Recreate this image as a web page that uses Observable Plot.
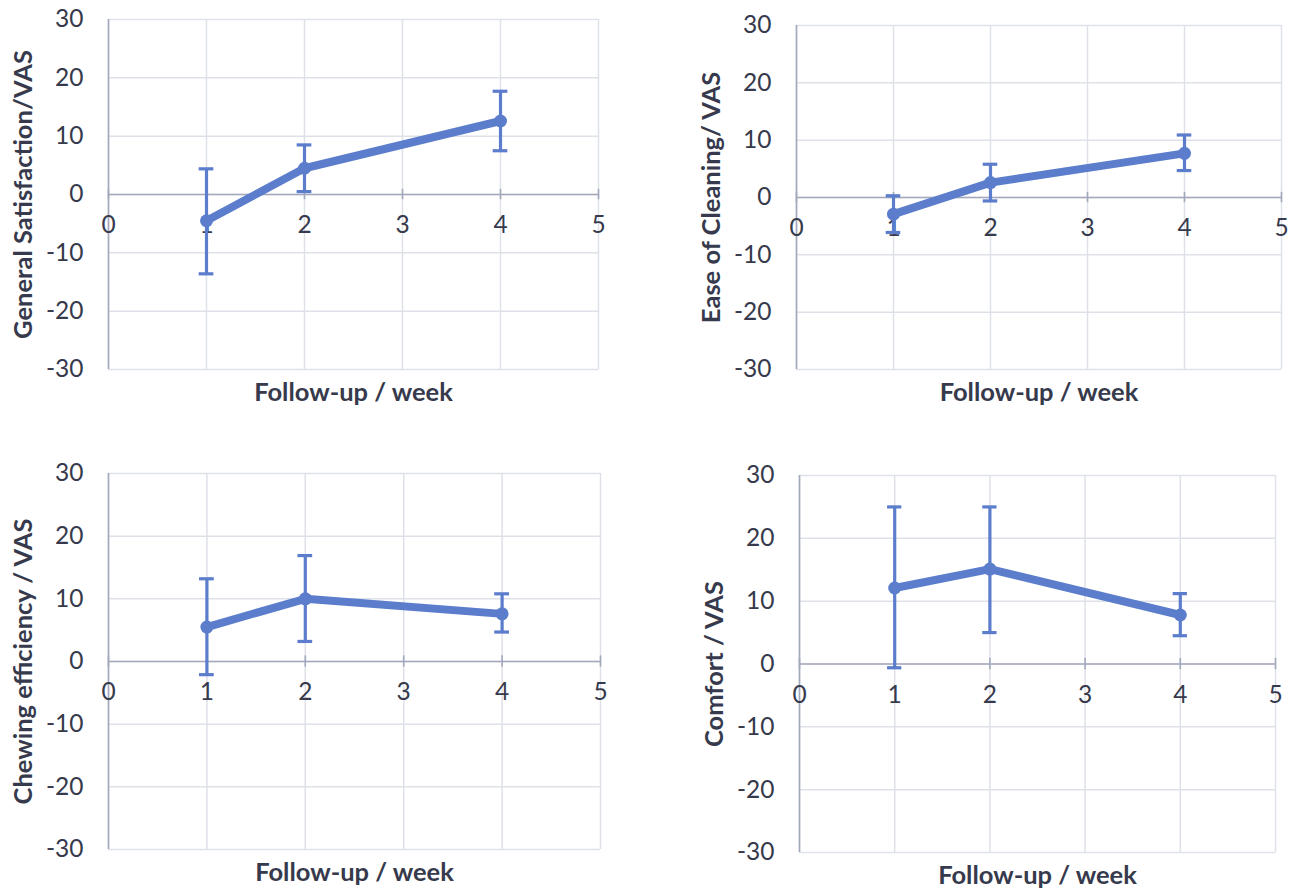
<!DOCTYPE html>
<html>
<head>
<meta charset="utf-8">
<script src="https://cdn.jsdelivr.net/npm/d3@7"></script>
<script src="https://cdn.jsdelivr.net/npm/@observablehq/plot@0.6"></script>
<style>
  html, body { margin: 0; padding: 0; background: #ffffff; }
  #page { position: relative; width: 1298px; height: 889px; overflow: hidden; background: #fff; }
  .panel { position: absolute; }
  .panel svg { display: block; overflow: visible; }
</style>
</head>
<body>
<div id="page"></div>
<script>
// ---- data ----
const weeks = [1, 2, 4];
const xTicks = [0, 1, 2, 3, 4, 5];
const yTicks = [-30, -20, -10, 0, 10, 20, 30];
const xTitle = "Follow-up / week";

const satLabel = "General Satisfaction/VAS";
const satMean = [-4.5, 4.5, 12.6];
const satLow  = [-13.6, 0.5, 7.5];
const satHigh = [4.4, 8.5, 17.7];

const cleanLabel = "Ease of Cleaning/ VAS";
const cleanMean = [-2.9, 2.6, 7.7];
const cleanLow  = [-6.1, -0.6, 4.7];
const cleanHigh = [0.3, 5.8, 10.9];

const chewLabel = "Chewing efficiency / VAS";
const chewMean = [5.5, 10.0, 7.6];
const chewLow  = [-2.1, 3.2, 4.7];
const chewHigh = [13.2, 16.9, 10.8];

const comfortLabel = "Comfort / VAS";
const comfortMean = [12.1, 15.1, 7.8];
const comfortLow  = [-0.6, 5.0, 4.5];
const comfortHigh = [25.0, 25.0, 11.2];

// ---- style ----
const blue = "#5b7dcc";
const gridColor = "#dfe1e9";
const axisColor = "#a3a9bd";
const textColor = "#363a4c";
const font = "Lato";

function panel(opts) {
  const {mean, low, high, label, left, top, width, height, ml, mr, mt, mb} = opts;
  const data = weeks.map((w, i) => ({week: w, mean: mean[i], low: low[i], high: high[i]}));
  const capHalf = 0.075;
  const chart = Plot.plot({
    width, height,
    marginLeft: ml, marginRight: mr, marginTop: mt, marginBottom: mb,
    x: {domain: [0, 5], axis: null},
    y: {domain: [-30, 30], axis: null},
    style: {fontFamily: font, color: textColor, background: "transparent", overflow: "visible"},
    marks: [
      Plot.ruleX(xTicks, {x: d => d, stroke: gridColor, strokeWidth: 1.5}),
      Plot.ruleY(yTicks, {y: d => d, stroke: gridColor, strokeWidth: 1.5}),
      Plot.ruleX([0], {x: d => d, stroke: axisColor, strokeWidth: 1.6}),
      Plot.ruleY([0], {y: d => d, stroke: axisColor, strokeWidth: 1.6}),
      Plot.ruleX(xTicks, {x: d => d, y1: () => -0.9, y2: () => 0.9, stroke: axisColor, strokeWidth: 1.6}),
      Plot.text(yTicks, {x: () => 0, y: d => d, text: d => String(d), textAnchor: "end", dx: -25, fontSize: 24.5, fill: textColor}),
      Plot.text(xTicks, {x: d => d, y: () => 0, text: d => String(d), dy: 31, fontSize: 24.5, fill: textColor}),
      Plot.ruleX(data, {x: "week", y1: "low", y2: "high", stroke: blue, strokeWidth: 3.2}),
      Plot.ruleY(data, {y: "high", x1: d => d.week - capHalf, x2: d => d.week + capHalf, stroke: blue, strokeWidth: 3.2}),
      Plot.ruleY(data, {y: "low", x1: d => d.week - capHalf, x2: d => d.week + capHalf, stroke: blue, strokeWidth: 3.2}),
      Plot.line(data, {x: "week", y: "mean", stroke: blue, strokeWidth: 8, strokeLinecap: "round", strokeLinejoin: "round"}),
      Plot.dot(data, {x: "week", y: "mean", r: 6.5, fill: blue, stroke: "none"}),
      Plot.text([xTitle], {frameAnchor: "bottom", dy: 23, lineAnchor: "middle", textAnchor: "middle", text: d => d, fontSize: 25.5, fontWeight: "bold", fill: textColor}),
      Plot.text([label], {frameAnchor: "left", dx: -85, rotate: -90, lineAnchor: "middle", textAnchor: "middle", text: d => d, fontSize: 25.5, fontWeight: "bold", fill: textColor})
    ]
  });
  const div = document.createElement("div");
  div.className = "panel";
  div.style.left = left + "px";
  div.style.top = top + "px";
  div.appendChild(chart);
  document.getElementById("page").appendChild(div);
}

panel({mean: satMean, low: satLow, high: satHigh, label: satLabel,
  left: 0, top: 0, width: 649, height: 444, ml: 108, mr: 51, mt: 19, mb: 75});
panel({mean: cleanMean, low: cleanLow, high: cleanHigh, label: cleanLabel,
  left: 649, top: 0, width: 649, height: 444, ml: 147, mr: 17, mt: 25, mb: 75});
panel({mean: chewMean, low: chewLow, high: chewHigh, label: chewLabel,
  left: 0, top: 444, width: 649, height: 445, ml: 108, mr: 49, mt: 29, mb: 40});
panel({mean: comfortMean, low: comfortLow, high: comfortHigh, label: comfortLabel,
  left: 649, top: 444, width: 649, height: 445, ml: 150, mr: 23, mt: 31, mb: 37});
</script>
</body>
</html>
